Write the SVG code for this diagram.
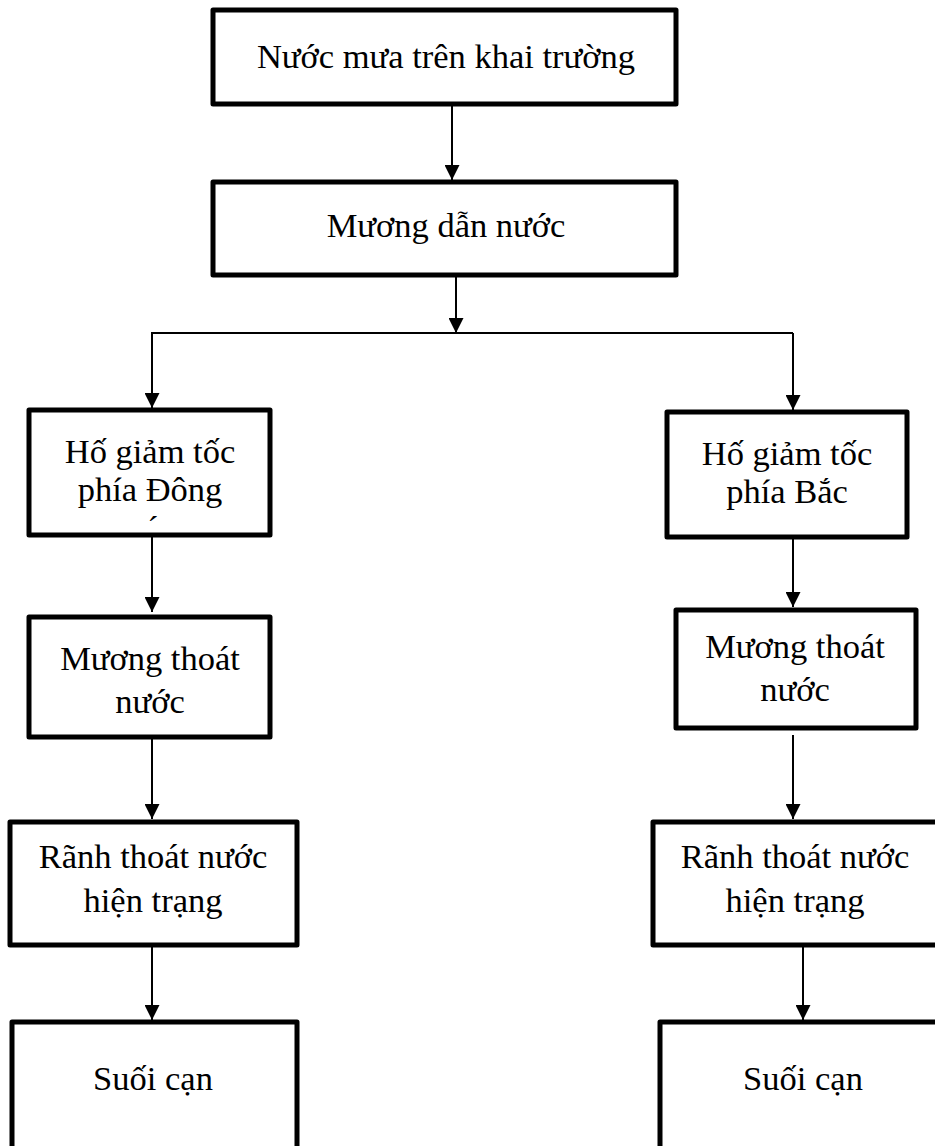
<svg xmlns="http://www.w3.org/2000/svg" width="935" height="1146" viewBox="0 0 935 1146">
<defs>
<marker id="ah" viewBox="0 0 15 15" refX="15" refY="7.5" markerWidth="15" markerHeight="15" markerUnits="userSpaceOnUse" orient="auto">
<path d="M0,0 L15,7.5 L0,15 Z" fill="#000"/>
</marker>
<style>
.box{fill:#fff;stroke:#000;stroke-width:5;stroke-linejoin:round}
.t{font-family:"Liberation Serif","Times New Roman",serif;font-size:34.5px;fill:#000;text-anchor:middle}
.c{fill:none;stroke:#000;stroke-width:2}
</style>
</defs>
<rect width="935" height="1146" fill="#fff"/>
<g id="connectors">
<line class="c" x1="452" y1="104" x2="452" y2="180" marker-end="url(#ah)"/>
<line class="c" x1="456" y1="275" x2="456" y2="333" marker-end="url(#ah)"/>
<line class="c" x1="151" y1="333" x2="793" y2="333"/>
<line class="c" x1="152" y1="333" x2="152" y2="408" marker-end="url(#ah)"/>
<line class="c" x1="793" y1="333" x2="793" y2="410" marker-end="url(#ah)"/>
<line class="c" x1="152" y1="535" x2="152" y2="612" marker-end="url(#ah)"/>
<line class="c" x1="793" y1="535" x2="793" y2="607" marker-end="url(#ah)"/>
<line class="c" x1="152" y1="737" x2="152" y2="819" marker-end="url(#ah)"/>
<line class="c" x1="793" y1="735" x2="793" y2="819" marker-end="url(#ah)"/>
<line class="c" x1="152" y1="945" x2="152" y2="1020" marker-end="url(#ah)"/>
<line class="c" x1="803" y1="945" x2="803" y2="1020" marker-end="url(#ah)"/>
</g>
<g id="n1"><rect class="box" x="213" y="10" width="463" height="94"/><text class="t" x="446" y="68">Nước mưa trên khai trường</text></g>
<g id="n2"><rect class="box" x="213" y="182" width="463" height="93"/><text class="t" x="446" y="237">Mương dẫn nước</text></g>
<g id="n3"><rect class="box" x="29" y="410" width="241" height="125"/><text class="t" x="150" y="463">Hố giảm tốc</text><text class="t" x="150" y="501">phía Đông</text><text class="t" x="153" y="540" font-size="24">´</text></g>
<g id="n4"><rect class="box" x="667" y="412" width="240" height="125"/><text class="t" x="787" y="465">Hố giảm tốc</text><text class="t" x="787" y="503">phía Bắc</text></g>
<g id="n5"><rect class="box" x="29" y="617" width="241" height="120"/><text class="t" x="150" y="670">Mương thoát</text><text class="t" x="150" y="713">nước</text></g>
<g id="n6"><rect class="box" x="676" y="610" width="240" height="118"/><text class="t" x="795" y="658">Mương thoát</text><text class="t" x="795" y="701">nước</text></g>
<g id="n7"><rect class="box" x="10" y="822" width="287" height="123"/><text class="t" x="153" y="868">Rãnh thoát nước</text><text class="t" x="153" y="912">hiện trạng</text></g>
<g id="n8"><rect class="box" x="653" y="822" width="292" height="123"/><text class="t" x="795" y="868">Rãnh thoát nước</text><text class="t" x="795" y="912">hiện trạng</text></g>
<g id="n9"><rect class="box" x="12" y="1022" width="285" height="150"/><text class="t" x="153" y="1090">Suối cạn</text></g>
<g id="n10"><rect class="box" x="660" y="1022" width="285" height="150"/><text class="t" x="803" y="1090">Suối cạn</text></g>
</svg>
